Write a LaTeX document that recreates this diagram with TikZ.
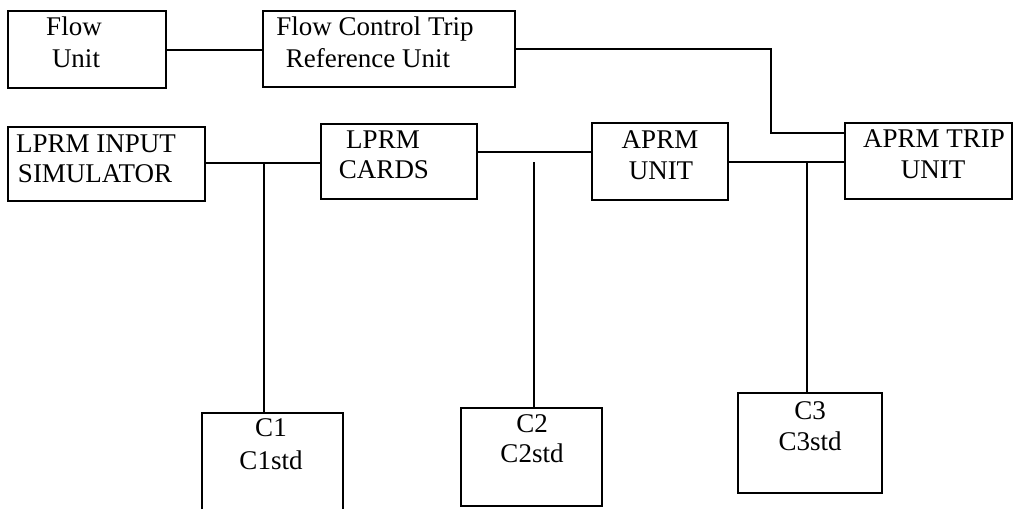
\documentclass[tikz,border=0pt]{standalone}
\usepackage{fontspec}
\setmainfont{Liberation Serif}
\begin{document}
\begin{tikzpicture}[x=1pt,y=-1pt,
  boxst/.style={draw, line width=2.2pt, rectangle, inner sep=0pt},
  openbox/.style={rectangle, inner sep=0pt},
  txt/.style={anchor=base, inner sep=0pt, font=\fontsize{27}{31}\selectfont},
  conn/.style={line width=2.2pt}]
\useasboundingbox (0,0) rectangle (1016,509);
% boxes
\node[boxst, minimum width=158pt, minimum height=77pt] (flow) at (87,49.5) {};
\node[boxst, minimum width=252pt, minimum height=76pt] (fctru) at (389,49) {};
\node[boxst, minimum width=197pt, minimum height=74pt] (lis) at (106.5,164) {};
\node[boxst, minimum width=156pt, minimum height=75pt] (cards) at (399,161.5) {};
\node[boxst, minimum width=136pt, minimum height=77pt] (aprm) at (660,161.5) {};
\node[boxst, minimum width=167pt, minimum height=76pt] (trip) at (928.5,161) {};
\node[openbox, minimum width=141pt, minimum height=96pt] (c1) at (272.5,461) {};
\draw[conn] (c1.south west) -- (c1.north west) -- (c1.north east) -- (c1.south east);
\node[boxst, minimum width=141pt, minimum height=98pt] (c2) at (531.5,457) {};
\node[boxst, minimum width=144pt, minimum height=100pt] (c3) at (810,443) {};
% texts
\node[txt] (t1a) at (74,35) {Flow};
\node[txt] (t1b) at (76,67) {Unit};
\node[txt] (t2a) at (375,35) {Flow Control Trip};
\node[txt] (t2b) at (368,67) {Reference Unit};
\node[txt] (t3a) at (96,152) {LPRM INPUT};
\node[txt] (t3b) at (95,182) {SIMULATOR};
\node[txt] (t4a) at (383,148) {LPRM};
\node[txt] (t4b) at (384,178) {CARDS};
\node[txt] (t5a) at (660,148) {APRM};
\node[txt] (t5b) at (661,179) {UNIT};
\node[txt] (t6a) at (934,147) {APRM TRIP};
\node[txt] (t6b) at (933,178) {UNIT};
\node[txt] (t7a) at (271,436) {C1};
\node[txt] (t7b) at (271,469) {C1std};
\node[txt] (t8a) at (532,432) {C2};
\node[txt] (t8b) at (532,462) {C2std};
\node[txt] (t9a) at (810,419) {C3};
\node[txt] (t9b) at (810,450) {C3std};
% junction coordinates
\coordinate (y50) at (0,50);
\coordinate (y49) at (0,49);
\coordinate (bend) at (771,49);
\coordinate (y133) at (0,133);
\coordinate (y163) at (0,163);
\coordinate (y152) at (0,152);
\coordinate (y162) at (0,162);
\coordinate (j1) at (264,163);
\coordinate (j2) at (534,162);
\coordinate (j3) at (807,162);
% connectors
\draw[conn] (flow.east |- y50) -- (fctru.west |- y50);
\draw[conn] (fctru.east |- y49) -- (bend) |- (trip.west |- y133);
\draw[conn] (lis.east |- y163) -- (cards.west |- y163);
\draw[conn] (j1) -- (j1 |- c1.north);
\draw[conn] (cards.east |- y152) -- (aprm.west |- y152);
\draw[conn] (j2) -- (j2 |- c2.north);
\draw[conn] (aprm.east |- y162) -- (trip.west |- y162);
\draw[conn] (j3) -- (j3 |- c3.north);
\end{tikzpicture}
\end{document}
